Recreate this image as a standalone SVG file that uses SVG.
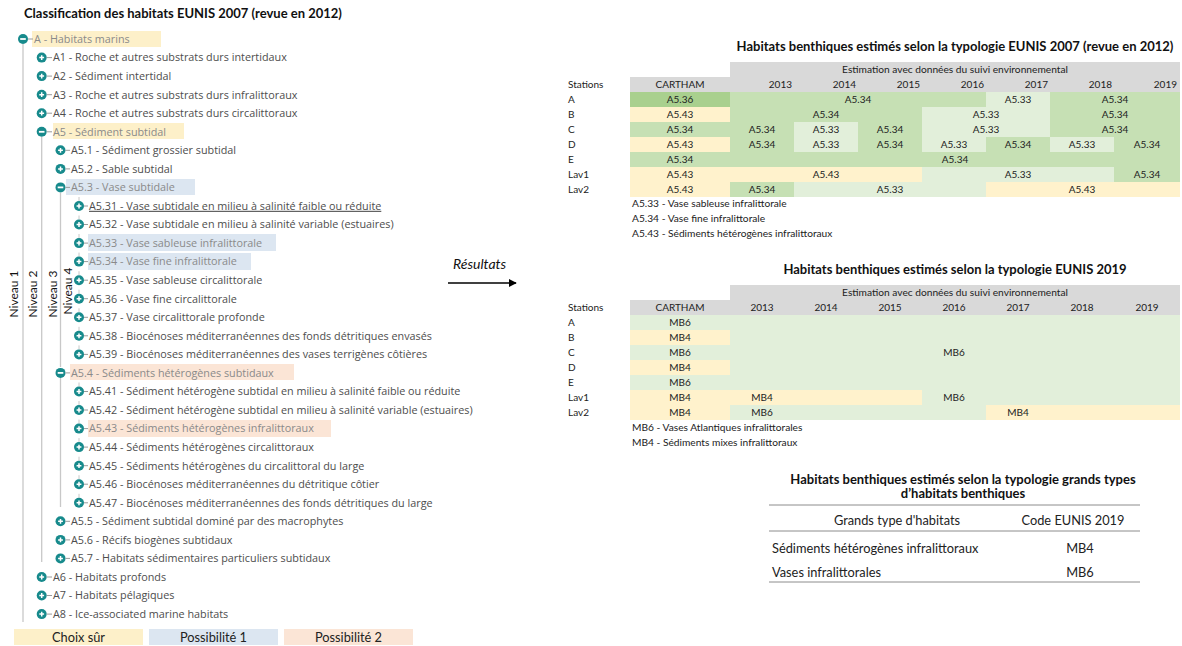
<svg xmlns="http://www.w3.org/2000/svg" width="1182" height="646" viewBox="0 0 1182 646">
<style>
.bg{fill:#ffffff}
.tt{font-family:"Open Sans","DejaVu Sans",sans-serif;font-size:10.8px;fill:#4d4d4d}
.hl{fill:#8a8a8a}
.ul{text-decoration:underline}
.ttl{font-family:Lato,"Liberation Sans",sans-serif;font-weight:bold;font-size:13px;fill:#111}
.tb{font-family:Lato,"Liberation Sans",sans-serif;font-size:10px;fill:#222}
.tbs{font-family:Lato,"Liberation Sans",sans-serif;font-size:10.2px;fill:#222}
.t3{font-family:Lato,"Liberation Sans",sans-serif;font-size:12.8px;fill:#222}
.c{text-anchor:middle}
.r{text-anchor:end}
.niv{font-family:Lato,"Liberation Sans",sans-serif;font-size:12px;fill:#111;text-anchor:middle}
.vl{stroke:#c8c8c8;stroke-width:1.3;fill:none}
.stub{stroke:#9a9a9a;stroke-width:1;fill:none}
.tick{stroke:#c8c8c8;stroke-width:1;fill:none}
.yel{fill:#fdf0c9}
.blu{fill:#dce6f1}
.pnk{fill:#fbe5d6}
.g3{fill:#a9d08e}
.g2{fill:#c6e0b4}
.g1{fill:#e2efda}
.bei{fill:#fff2cc}
.hdr{fill:#d9d9d9}
.rule{stroke:#8c8c8c;stroke-width:1}
</style>
<defs>
<g id="plus"><circle r="5" fill="#178a8c"/><path d="M-2.4 0H2.4M0 -2.4V2.4" stroke="#fff" stroke-width="1.5"/></g>
<g id="minus"><circle r="5" fill="#178a8c"/><path d="M-2.8 0H2.8" stroke="#fff" stroke-width="1.8"/></g>
<marker id="ah" viewBox="0 0 10 10" refX="9" refY="5" markerWidth="8" markerHeight="8" markerUnits="userSpaceOnUse" orient="auto"><path d="M0 0L10 5L0 10z" fill="#000"/></marker>
</defs>
<rect class="bg" x="0" y="0" width="1182" height="646"/>

<text class="ttl" x="24" y="18">Classification des habitats EUNIS 2007 (revue en 2012)</text>

<g id="connectors">
<line class="vl" x1="23" y1="44" x2="23" y2="622"/>
<line class="vl" x1="41.7" y1="137" x2="41.7" y2="562"/>
<line class="vl" x1="60.5" y1="193" x2="60.5" y2="367"/>
<line class="vl" x1="60.5" y1="378" x2="60.5" y2="507"/>
<g class="tick">
<line x1="79" y1="197" x2="79" y2="201"/><line x1="79" y1="215.5" x2="79" y2="219.5"/><line x1="79" y1="234" x2="79" y2="238"/><line x1="79" y1="252.6" x2="79" y2="256.6"/><line x1="79" y1="271.2" x2="79" y2="275.2"/><line x1="79" y1="289.7" x2="79" y2="293.7"/><line x1="79" y1="308.3" x2="79" y2="312.3"/><line x1="79" y1="326.8" x2="79" y2="330.8"/><line x1="79" y1="345.4" x2="79" y2="349.4"/>
<line x1="79" y1="382.5" x2="79" y2="386.5"/><line x1="79" y1="401" x2="79" y2="405"/><line x1="79" y1="419.6" x2="79" y2="423.6"/><line x1="79" y1="438.1" x2="79" y2="442.1"/><line x1="79" y1="456.7" x2="79" y2="460.7"/><line x1="79" y1="475.2" x2="79" y2="479.2"/><line x1="79" y1="493.8" x2="79" y2="497.8"/>
</g>
<line x1="448" y1="283" x2="516" y2="283" stroke="#000" stroke-width="1.6" marker-end="url(#ah)"/>
</g>

<g id="niveaux">
<text class="niv" transform="translate(18 294) rotate(-90)">Niveau 1</text>
<text class="niv" transform="translate(37 294) rotate(-90)">Niveau 2</text>
<text class="niv" transform="translate(57 294) rotate(-90)">Niveau 3</text>
<text class="niv" transform="translate(72 291) rotate(-90)">Niveau 4</text>
</g>

<g id="highlights">
<rect class="yel" x="32" y="31" width="129" height="16"/>
<rect class="yel" x="53" y="123" width="131" height="16"/>
<rect class="blu" x="66" y="179" width="129" height="16"/>
<rect class="blu" x="88" y="234" width="188" height="17"/>
<rect class="blu" x="88" y="253" width="163" height="17"/>
<rect class="pnk" x="70" y="364" width="224" height="16"/>
<rect class="pnk" x="88" y="420" width="243" height="17"/>
</g>

<g id="n-A"><use href="#minus" x="23" y="39"/><line class="stub" x1="28" y1="39" x2="33" y2="39"/><text class="tt hl" x="34" y="42.8">A - Habitats marins</text></g>
<g id="n-A1"><use href="#plus" x="41.7" y="57.6"/><line class="stub" x1="46.7" y1="57.6" x2="52" y2="57.6"/><text class="tt" x="53" y="61.4">A1 - Roche et autres substrats durs intertidaux</text></g>
<g id="n-A2"><use href="#plus" x="41.7" y="76.1"/><line class="stub" x1="46.7" y1="76.1" x2="52" y2="76.1"/><text class="tt" x="53" y="79.9">A2 - Sédiment intertidal</text></g>
<g id="n-A3"><use href="#plus" x="41.7" y="94.7"/><line class="stub" x1="46.7" y1="94.7" x2="52" y2="94.7"/><text class="tt" x="53" y="98.5">A3 - Roche et autres substrats durs infralittoraux</text></g>
<g id="n-A4"><use href="#plus" x="41.7" y="113.2"/><line class="stub" x1="46.7" y1="113.2" x2="52" y2="113.2"/><text class="tt" x="53" y="117">A4 - Roche et autres substrats durs circalittoraux</text></g>
<g id="n-A5"><use href="#minus" x="41.7" y="131.8"/><line class="stub" x1="46.7" y1="131.8" x2="52" y2="131.8"/><text class="tt hl" x="53" y="135.6">A5 - Sédiment subtidal</text></g>
<g id="n-A5.1"><use href="#plus" x="60.5" y="150.3"/><line class="stub" x1="65.5" y1="150.3" x2="70" y2="150.3"/><text class="tt" x="71" y="154.1">A5.1 - Sédiment grossier subtidal</text></g>
<g id="n-A5.2"><use href="#plus" x="60.5" y="168.9"/><line class="stub" x1="65.5" y1="168.9" x2="70" y2="168.9"/><text class="tt" x="71" y="172.7">A5.2 - Sable subtidal</text></g>
<g id="n-A5.3"><use href="#minus" x="60.5" y="187.4"/><line class="stub" x1="65.5" y1="187.4" x2="70" y2="187.4"/><text class="tt hl" x="71" y="191.2">A5.3 - Vase subtidale</text></g>
<g id="n-A5.31"><use href="#plus" x="79" y="206"/><line class="stub" x1="84" y1="206" x2="88" y2="206"/><text class="tt ul" x="89" y="209.8">A5.31 - Vase subtidale en milieu à salinité faible ou réduite</text></g>
<g id="n-A5.32"><use href="#plus" x="79" y="224.5"/><line class="stub" x1="84" y1="224.5" x2="88" y2="224.5"/><text class="tt" x="89" y="228.3">A5.32 - Vase subtidale en milieu à salinité variable (estuaires)</text></g>
<g id="n-A5.33"><use href="#plus" x="79" y="243.1"/><line class="stub" x1="84" y1="243.1" x2="88" y2="243.1"/><text class="tt hl" x="89" y="246.9">A5.33 - Vase sableuse infralittorale</text></g>
<g id="n-A5.34"><use href="#plus" x="79" y="261.6"/><line class="stub" x1="84" y1="261.6" x2="88" y2="261.6"/><text class="tt hl" x="89" y="265.4">A5.34 - Vase fine infralittorale</text></g>
<g id="n-A5.35"><use href="#plus" x="79" y="280.2"/><line class="stub" x1="84" y1="280.2" x2="88" y2="280.2"/><text class="tt" x="89" y="284">A5.35 - Vase sableuse circalittorale</text></g>
<g id="n-A5.36"><use href="#plus" x="79" y="298.7"/><line class="stub" x1="84" y1="298.7" x2="88" y2="298.7"/><text class="tt" x="89" y="302.5">A5.36 - Vase fine circalittorale</text></g>
<g id="n-A5.37"><use href="#plus" x="79" y="317.3"/><line class="stub" x1="84" y1="317.3" x2="88" y2="317.3"/><text class="tt" x="89" y="321.1">A5.37 - Vase circalittorale profonde</text></g>
<g id="n-A5.38"><use href="#plus" x="79" y="335.8"/><line class="stub" x1="84" y1="335.8" x2="88" y2="335.8"/><text class="tt" x="89" y="339.6">A5.38 - Biocénoses méditerranéennes des fonds détritiques envasés</text></g>
<g id="n-A5.39"><use href="#plus" x="79" y="354.4"/><line class="stub" x1="84" y1="354.4" x2="88" y2="354.4"/><text class="tt" x="89" y="358.2">A5.39 - Biocénoses méditerranéennes des vases terrigènes côtières</text></g>
<g id="n-A5.4"><use href="#minus" x="60.5" y="372.9"/><line class="stub" x1="65.5" y1="372.9" x2="70" y2="372.9"/><text class="tt hl" x="71" y="376.7">A5.4 - Sédiments hétérogènes subtidaux</text></g>
<g id="n-A5.41"><use href="#plus" x="79" y="391.5"/><line class="stub" x1="84" y1="391.5" x2="88" y2="391.5"/><text class="tt" x="89" y="395.3">A5.41 - Sédiment hétérogène subtidal en milieu à salinité faible ou réduite</text></g>
<g id="n-A5.42"><use href="#plus" x="79" y="410"/><line class="stub" x1="84" y1="410" x2="88" y2="410"/><text class="tt" x="89" y="413.8">A5.42 - Sédiment hétérogène subtidal en milieu à salinité variable (estuaires)</text></g>
<g id="n-A5.43"><use href="#plus" x="79" y="428.6"/><line class="stub" x1="84" y1="428.6" x2="88" y2="428.6"/><text class="tt hl" x="89" y="432.4">A5.43 - Sédiments hétérogènes infralittoraux</text></g>
<g id="n-A5.44"><use href="#plus" x="79" y="447.1"/><line class="stub" x1="84" y1="447.1" x2="88" y2="447.1"/><text class="tt" x="89" y="450.9">A5.44 - Sédiments hétérogènes circalittoraux</text></g>
<g id="n-A5.45"><use href="#plus" x="79" y="465.7"/><line class="stub" x1="84" y1="465.7" x2="88" y2="465.7"/><text class="tt" x="89" y="469.5">A5.45 - Sédiments hétérogènes du circalittoral du large</text></g>
<g id="n-A5.46"><use href="#plus" x="79" y="484.2"/><line class="stub" x1="84" y1="484.2" x2="88" y2="484.2"/><text class="tt" x="89" y="488">A5.46 - Biocénoses méditerranéennes du détritique côtier</text></g>
<g id="n-A5.47"><use href="#plus" x="79" y="502.8"/><line class="stub" x1="84" y1="502.8" x2="88" y2="502.8"/><text class="tt" x="89" y="506.6">A5.47 - Biocénoses méditerranéennes des fonds détritiques du large</text></g>
<g id="n-A5.5"><use href="#plus" x="60.5" y="521.3"/><line class="stub" x1="65.5" y1="521.3" x2="70" y2="521.3"/><text class="tt" x="71" y="525.1">A5.5 - Sédiment subtidal dominé par des macrophytes</text></g>
<g id="n-A5.6"><use href="#plus" x="60.5" y="539.9"/><line class="stub" x1="65.5" y1="539.9" x2="70" y2="539.9"/><text class="tt" x="71" y="543.7">A5.6 - Récifs biogènes subtidaux</text></g>
<g id="n-A5.7"><use href="#plus" x="60.5" y="558.4"/><line class="stub" x1="65.5" y1="558.4" x2="70" y2="558.4"/><text class="tt" x="71" y="562.2">A5.7 - Habitats sédimentaires particuliers subtidaux</text></g>
<g id="n-A6"><use href="#plus" x="41.7" y="577"/><line class="stub" x1="46.7" y1="577" x2="52" y2="577"/><text class="tt" x="53" y="580.8">A6 - Habitats profonds</text></g>
<g id="n-A7"><use href="#plus" x="41.7" y="595.5"/><line class="stub" x1="46.7" y1="595.5" x2="52" y2="595.5"/><text class="tt" x="53" y="599.3">A7 - Habitats pélagiques</text></g>
<g id="n-A8"><use href="#plus" x="41.7" y="614.1"/><line class="stub" x1="46.7" y1="614.1" x2="52" y2="614.1"/><text class="tt" x="53" y="617.9">A8 - Ice-associated marine habitats</text></g>

<g id="legend">
<rect class="yel" x="14" y="629" width="129" height="16"/><text class="t3 c" x="78.5" y="641.5" font-size="13">Choix sûr</text>
<rect class="blu" x="149" y="629" width="129" height="16"/><text class="t3 c" x="213.5" y="641.5" font-size="13">Possibilité 1</text>
<rect class="pnk" x="284" y="629" width="129" height="16"/><text class="t3 c" x="348.5" y="641.5" font-size="13">Possibilité 2</text>
</g>

<g id="resultats"><text x="453" y="269" font-family="Lato,'Liberation Sans',sans-serif" font-style="italic" font-size="14" fill="#111">Résultats</text></g>

<g id="table-eunis2007">
<text class="ttl c" x="955" y="51">Habitats benthiques estimés selon la typologie EUNIS 2007 (revue en 2012)</text>
<rect class="hdr" x="730" y="62" width="450" height="15"/>
<rect class="hdr" x="630" y="77" width="550" height="15"/>
<text class="tbs c" x="955" y="73">Estimation avec données du suivi environnemental</text>
<text class="tb" x="568" y="88">Stations</text>
<text class="tb c" x="680" y="88">CARTHAM</text>
<text class="tb r" x="792" y="88">2013</text><text class="tb r" x="856" y="88">2014</text><text class="tb r" x="920" y="88">2015</text><text class="tb r" x="984" y="88">2016</text><text class="tb r" x="1048" y="88">2017</text><text class="tb r" x="1112" y="88">2018</text><text class="tb r" x="1177" y="88">2019</text>
<rect class="g3" x="630" y="92" width="100" height="15"/><rect class="g2" x="730" y="92" width="256" height="15"/><rect class="g1" x="986" y="92" width="64" height="15"/><rect class="g2" x="1050" y="92" width="130" height="15"/>
<rect class="bei" x="630" y="107" width="100" height="15"/><rect class="g2" x="730" y="107" width="192" height="15"/><rect class="g1" x="922" y="107" width="128" height="15"/><rect class="g2" x="1050" y="107" width="130" height="15"/>
<rect class="g2" x="630" y="122" width="100" height="15"/><rect class="g2" x="730" y="122" width="64" height="15"/><rect class="g1" x="794" y="122" width="64" height="15"/><rect class="g2" x="858" y="122" width="64" height="15"/><rect class="g1" x="922" y="122" width="128" height="15"/><rect class="g2" x="1050" y="122" width="130" height="15"/>
<rect class="bei" x="630" y="137" width="100" height="15"/><rect class="g2" x="730" y="137" width="64" height="15"/><rect class="g1" x="794" y="137" width="64" height="15"/><rect class="g2" x="858" y="137" width="64" height="15"/><rect class="g1" x="922" y="137" width="64" height="15"/><rect class="g2" x="986" y="137" width="64" height="15"/><rect class="g1" x="1050" y="137" width="64" height="15"/><rect class="g2" x="1114" y="137" width="66" height="15"/>
<rect class="g2" x="630" y="152" width="550" height="15"/>
<rect class="bei" x="630" y="167" width="100" height="15"/><rect class="bei" x="730" y="167" width="192" height="15"/><rect class="g1" x="922" y="167" width="192" height="15"/><rect class="g2" x="1114" y="167" width="66" height="15"/>
<rect class="bei" x="630" y="182" width="100" height="15"/><rect class="g2" x="730" y="182" width="64" height="15"/><rect class="g1" x="794" y="182" width="192" height="15"/><rect class="bei" x="986" y="182" width="194" height="15"/>
<text class="tb" x="568" y="103">A</text><text class="tb" x="568" y="118">B</text><text class="tb" x="568" y="133">C</text><text class="tb" x="568" y="148">D</text><text class="tb" x="568" y="163">E</text><text class="tb" x="568" y="178">Lav1</text><text class="tb" x="568" y="193">Lav2</text>
<g class="tb c">
<text x="680" y="103">A5.36</text><text x="858" y="103">A5.34</text><text x="1018" y="103">A5.33</text><text x="1115" y="103">A5.34</text>
<text x="680" y="118">A5.43</text><text x="826" y="118">A5.34</text><text x="986" y="118">A5.33</text><text x="1115" y="118">A5.34</text>
<text x="680" y="133">A5.34</text><text x="762" y="133">A5.34</text><text x="826" y="133">A5.33</text><text x="890" y="133">A5.34</text><text x="986" y="133">A5.33</text><text x="1115" y="133">A5.34</text>
<text x="680" y="148">A5.43</text><text x="762" y="148">A5.34</text><text x="826" y="148">A5.33</text><text x="890" y="148">A5.34</text><text x="954" y="148">A5.33</text><text x="1018" y="148">A5.34</text><text x="1082" y="148">A5.33</text><text x="1147" y="148">A5.34</text>
<text x="680" y="163">A5.34</text><text x="955" y="163">A5.34</text>
<text x="680" y="178">A5.43</text><text x="826" y="178">A5.43</text><text x="1018" y="178">A5.33</text><text x="1147" y="178">A5.34</text>
<text x="680" y="193">A5.43</text><text x="762" y="193">A5.34</text><text x="890" y="193">A5.33</text><text x="1082" y="193">A5.43</text>
</g>
<text class="tbs" x="632" y="207">A5.33 - Vase sableuse infralittorale</text>
<text class="tbs" x="632" y="222">A5.34 - Vase fine infralittorale</text>
<text class="tbs" x="632" y="237">A5.43 - Sédiments hétérogènes infralittoraux</text>
</g>

<g id="table-eunis2019">
<text class="ttl c" x="955" y="274">Habitats benthiques estimés selon la typologie EUNIS 2019</text>
<rect class="hdr" x="730" y="285" width="450" height="15"/>
<rect class="hdr" x="630" y="300" width="550" height="15"/>
<text class="tbs c" x="955" y="296">Estimation avec données du suivi environnemental</text>
<text class="tb" x="568" y="311">Stations</text>
<text class="tb c" x="680" y="311">CARTHAM</text>
<text class="tb c" x="762" y="311">2013</text><text class="tb c" x="826" y="311">2014</text><text class="tb c" x="890" y="311">2015</text><text class="tb c" x="954" y="311">2016</text><text class="tb c" x="1018" y="311">2017</text><text class="tb c" x="1082" y="311">2018</text><text class="tb c" x="1147" y="311">2019</text>
<rect class="g1" x="630" y="315" width="100" height="15"/>
<rect class="bei" x="630" y="330" width="100" height="15"/>
<rect class="g1" x="630" y="345" width="100" height="15"/>
<rect class="bei" x="630" y="360" width="100" height="15"/>
<rect class="g1" x="630" y="375" width="100" height="15"/>
<rect class="bei" x="630" y="390" width="100" height="15"/>
<rect class="bei" x="630" y="405" width="100" height="15"/>
<rect class="g1" x="730" y="315" width="450" height="75"/>
<rect class="bei" x="730" y="390" width="192" height="15"/><rect class="g1" x="922" y="390" width="258" height="15"/>
<rect class="g1" x="730" y="405" width="256" height="15"/><rect class="bei" x="986" y="405" width="194" height="15"/>
<text class="tb" x="568" y="326">A</text><text class="tb" x="568" y="341">B</text><text class="tb" x="568" y="356">C</text><text class="tb" x="568" y="371">D</text><text class="tb" x="568" y="386">E</text><text class="tb" x="568" y="401">Lav1</text><text class="tb" x="568" y="416">Lav2</text>
<g class="tb c">
<text x="680" y="326">MB6</text><text x="680" y="341">MB4</text><text x="680" y="356">MB6</text><text x="680" y="371">MB4</text><text x="680" y="386">MB6</text><text x="680" y="401">MB4</text><text x="680" y="416">MB4</text>
<text x="954" y="356">MB6</text>
<text x="762" y="401">MB4</text><text x="954" y="401">MB6</text>
<text x="762" y="416">MB6</text><text x="1018" y="416">MB4</text>
</g>
<text class="tbs" x="632" y="431">MB6 - Vases Atlantiques infralittorales</text>
<text class="tbs" x="632" y="446">MB4 - Sédiments mixes infralittoraux</text>
</g>

<g id="table-grands-types">
<text class="ttl c" x="963" y="484">Habitats benthiques estimés selon la typologie grands types</text>
<text class="ttl c" x="963" y="498">d’habitats benthiques</text>
<line class="rule" x1="769" y1="505" x2="1140" y2="505"/>
<text class="t3 c" x="897" y="525">Grands type d'habitats</text>
<text class="t3 c" x="1073" y="525">Code EUNIS 2019</text>
<line class="rule" x1="769" y1="531" x2="1140" y2="531"/>
<text class="t3" x="772" y="553">Sédiments hétérogènes infralittoraux</text>
<text class="t3 c" x="1080" y="553">MB4</text>
<text class="t3" x="772" y="577">Vases infralittorales</text>
<text class="t3 c" x="1080" y="577">MB6</text>
<line class="rule" x1="769" y1="582" x2="1140" y2="582"/>
</g>
</svg>
